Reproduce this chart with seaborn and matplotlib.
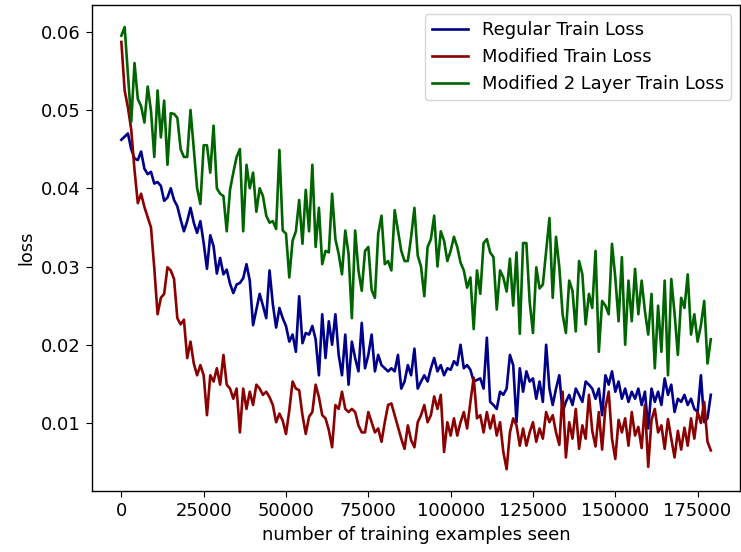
import numpy as np
import pandas as pd
import matplotlib
matplotlib.use("Agg")
import matplotlib.pyplot as plt
import seaborn as sns

step = 1000

regular = [
    0.0462, 0.0466, 0.0470, 0.0450, 0.0438, 0.0436, 0.0447, 0.0425, 0.0418, 0.0421,
    0.0406, 0.0408, 0.0403, 0.0384, 0.0388, 0.0400, 0.0385, 0.0377, 0.0360, 0.0345,
    0.0358, 0.0375, 0.0356, 0.0343, 0.0358, 0.0330, 0.0297, 0.0340, 0.0326, 0.0291,
    0.0311, 0.0290, 0.0296, 0.0278, 0.0266, 0.0277, 0.0279, 0.0285, 0.0303, 0.0282,
    0.0225, 0.0245, 0.0265, 0.0250, 0.0234, 0.0295, 0.0252, 0.0222, 0.0247, 0.0234,
    0.0224, 0.0204, 0.0213, 0.0191, 0.0262, 0.0202, 0.0215, 0.0213, 0.0224, 0.0207,
    0.0161, 0.0239, 0.0183, 0.0230, 0.0200, 0.0239, 0.0187, 0.0161, 0.0213, 0.0149,
    0.0204, 0.0183, 0.0166, 0.0228, 0.0170, 0.0187, 0.0213, 0.0166, 0.0187, 0.0174,
    0.0170, 0.0166, 0.0170, 0.0166, 0.0187, 0.0144, 0.0153, 0.0174, 0.0161, 0.0195,
    0.0144, 0.0153, 0.0161, 0.0153, 0.0170, 0.0183, 0.0166, 0.0174, 0.0161, 0.0170,
    0.0168, 0.0179, 0.0174, 0.0200, 0.0170, 0.0174, 0.0168, 0.0153, 0.0155, 0.0157,
    0.0144, 0.0209, 0.0127, 0.0123, 0.0118, 0.0140, 0.0136, 0.0144, 0.0187, 0.0174,
    0.0101, 0.0170, 0.0140, 0.0166, 0.0153, 0.0157, 0.0131, 0.0153, 0.0127, 0.0200,
    0.0144, 0.0123, 0.0144, 0.0161, 0.0114, 0.0127, 0.0136, 0.0123, 0.0144, 0.0136,
    0.0127, 0.0153, 0.0149, 0.0144, 0.0131, 0.0144, 0.0110, 0.0161, 0.0149, 0.0166,
    0.0140, 0.0153, 0.0131, 0.0144, 0.0127, 0.0140, 0.0131, 0.0144, 0.0123, 0.0140,
    0.0093, 0.0144, 0.0127, 0.0140, 0.0123, 0.0157, 0.0136, 0.0149, 0.0114, 0.0131,
    0.0127, 0.0136, 0.0123, 0.0131, 0.0118, 0.0114, 0.0161, 0.0101, 0.0106, 0.0136,
]

modified = [
    0.0587, 0.0525, 0.0503, 0.0475, 0.0423, 0.0381, 0.0393, 0.0376, 0.0363, 0.0350,
    0.0298, 0.0239, 0.0260, 0.0265, 0.0299, 0.0295, 0.0284, 0.0234, 0.0226, 0.0232,
    0.0183, 0.0204, 0.0176, 0.0161, 0.0174, 0.0161, 0.0110, 0.0161, 0.0153, 0.0170,
    0.0149, 0.0187, 0.0149, 0.0144, 0.0131, 0.0144, 0.0088, 0.0144, 0.0118, 0.0140,
    0.0123, 0.0149, 0.0144, 0.0136, 0.0140, 0.0133, 0.0123, 0.0101, 0.0112, 0.0103,
    0.0086, 0.0116, 0.0153, 0.0144, 0.0142, 0.0110, 0.0086, 0.0108, 0.0114, 0.0149,
    0.0133, 0.0110, 0.0106, 0.0091, 0.0069, 0.0123, 0.0118, 0.0140, 0.0118, 0.0114,
    0.0118, 0.0114, 0.0097, 0.0088, 0.0088, 0.0114, 0.0101, 0.0088, 0.0093, 0.0076,
    0.0101, 0.0123, 0.0125, 0.0110, 0.0095, 0.0080, 0.0067, 0.0097, 0.0078, 0.0069,
    0.0101, 0.0110, 0.0123, 0.0101, 0.0110, 0.0134, 0.0118, 0.0136, 0.0063, 0.0101,
    0.0084, 0.0106, 0.0084, 0.0101, 0.0114, 0.0093, 0.0127, 0.0158, 0.0106, 0.0110,
    0.0088, 0.0114, 0.0093, 0.0110, 0.0084, 0.0101, 0.0063, 0.0041, 0.0088, 0.0106,
    0.0097, 0.0071, 0.0093, 0.0071, 0.0088, 0.0101, 0.0076, 0.0093, 0.0080, 0.0114,
    0.0101, 0.0110, 0.0088, 0.0072, 0.0140, 0.0056, 0.0101, 0.0080, 0.0118, 0.0067,
    0.0097, 0.0080, 0.0136, 0.0090, 0.0070, 0.0114, 0.0066, 0.0120, 0.0140, 0.0080,
    0.0054, 0.0104, 0.0088, 0.0106, 0.0071, 0.0114, 0.0084, 0.0095, 0.0068, 0.0123,
    0.0044, 0.0104, 0.0118, 0.0088, 0.0097, 0.0067, 0.0105, 0.0080, 0.0056, 0.0090,
    0.0066, 0.0094, 0.0071, 0.0106, 0.0080, 0.0114, 0.0100, 0.0127, 0.0076, 0.0065,
]

modified_2layer = [
    0.0595, 0.0606, 0.0545, 0.0485, 0.0560, 0.0514, 0.0505, 0.0484, 0.0530, 0.0499,
    0.0440, 0.0525, 0.0465, 0.0512, 0.0430, 0.0496, 0.0495, 0.0490, 0.0450, 0.0440,
    0.0440, 0.0500, 0.0450, 0.0400, 0.0380, 0.0455, 0.0455, 0.0420, 0.0480, 0.0400,
    0.0393, 0.0390, 0.0345, 0.0398, 0.0420, 0.0440, 0.0450, 0.0345, 0.0430, 0.0400,
    0.0420, 0.0370, 0.0400, 0.0390, 0.0365, 0.0356, 0.0358, 0.0348, 0.0449, 0.0346,
    0.0342, 0.0286, 0.0333, 0.0345, 0.0385, 0.0329, 0.0398, 0.0345, 0.0430, 0.0325,
    0.0375, 0.0303, 0.0320, 0.0318, 0.0393, 0.0335, 0.0316, 0.0290, 0.0346, 0.0316,
    0.0234, 0.0346, 0.0295, 0.0269, 0.0320, 0.0325, 0.0270, 0.0260, 0.0342, 0.0365,
    0.0303, 0.0307, 0.0295, 0.0372, 0.0346, 0.0320, 0.0307, 0.0307, 0.0338, 0.0375,
    0.0314, 0.0300, 0.0262, 0.0325, 0.0335, 0.0365, 0.0300, 0.0345, 0.0333, 0.0307,
    0.0320, 0.0338, 0.0325, 0.0305, 0.0295, 0.0273, 0.0286, 0.0220, 0.0295, 0.0265,
    0.0330, 0.0335, 0.0318, 0.0312, 0.0245, 0.0295, 0.0286, 0.0268, 0.0310, 0.0250,
    0.0318, 0.0214, 0.0330, 0.0330, 0.0255, 0.0215, 0.0299, 0.0272, 0.0277, 0.0320,
    0.0362, 0.0260, 0.0338, 0.0299, 0.0239, 0.0215, 0.0282, 0.0269, 0.0217, 0.0307,
    0.0290, 0.0226, 0.0265, 0.0247, 0.0320, 0.0191, 0.0256, 0.0250, 0.0239, 0.0329,
    0.0286, 0.0230, 0.0312, 0.0200, 0.0282, 0.0230, 0.0297, 0.0239, 0.0282, 0.0243,
    0.0213, 0.0265, 0.0170, 0.0250, 0.0191, 0.0282, 0.0161, 0.0284, 0.0240, 0.0187,
    0.0260, 0.0247, 0.0290, 0.0213, 0.0239, 0.0204, 0.0225, 0.0256, 0.0176, 0.0207,
]

labels = ["Regular Train Loss", "Modified Train Loss", "Modified 2 Layer Train Loss"]
colors = ["darkblue", "darkred", "darkgreen"]

n = len(regular)
examples = np.arange(n) * step

plt.rcParams['font.family'] = ['DejaVu Sans']
plt.rcParams['font.size'] = 12.9
plt.rcParams['xtick.major.size'] = 4.5
plt.rcParams['ytick.major.size'] = 4.5
plt.rcParams['axes.linewidth'] = 1.0

fig = plt.figure(figsize=(7.41, 5.52), dpi=100)
ax = fig.add_axes([0.124, 0.110, 0.875, 0.881])

for series, lab, col in zip([regular, modified, modified_2layer], labels, colors):
    df = pd.DataFrame({"examples": examples, "loss": series})
    sns.lineplot(data=df, x="examples", y="loss", color=col, label=lab,
                 linewidth=1.9, ax=ax, estimator=None)

ax.set_xlabel("number of training examples seen")
ax.set_ylabel("loss")
ax.set_xticks([0, 25000, 50000, 75000, 100000, 125000, 150000, 175000])
ax.set_yticks([0.01, 0.02, 0.03, 0.04, 0.05, 0.06])
ax.legend(loc="upper right")

fig.savefig("out.png", dpi=100)
